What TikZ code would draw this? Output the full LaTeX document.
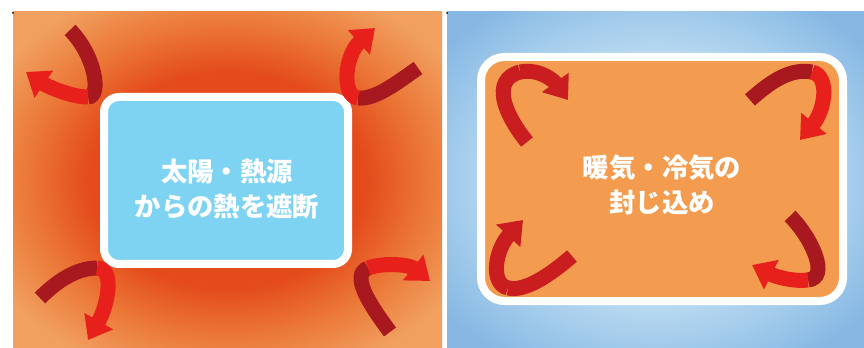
\documentclass[tikz,border=0pt]{standalone}
\usepackage{fontspec}
\newfontfamily\jpfont{Noto Sans CJK JP}
\usetikzlibrary{arrows.meta}

\definecolor{warmorange}{HTML}{F1A060}
\definecolor{glowmid}{HTML}{EB7636}
\definecolor{glowred}{HTML}{E44A1C}
\definecolor{paleblue}{HTML}{CDE7F7}
\definecolor{coolblue}{HTML}{86B8E3}
\definecolor{shieldblue}{HTML}{7FD3F2}
\definecolor{roomorange}{HTML}{F39C50}
\definecolor{tailred}{HTML}{A8181F}
\definecolor{headred}{HTML}{E8201C}
\definecolor{midred}{HTML}{C91D1F}

\pgfdeclareradialshading{heatglow}{\pgfpoint{0bp}{0bp}}{%
  color(0bp)=(glowred); color(16bp)=(glowred); color(23bp)=(glowmid);
  color(31bp)=(warmorange); color(50bp)=(warmorange)}
\pgfdeclareradialshading{coolglow}{\pgfpoint{0bp}{0bp}}{%
  color(0bp)=(paleblue); color(13bp)=(paleblue); color(32bp)=(coolblue);
  color(50bp)=(coolblue)}

\tikzset{
  panelbox/.style={draw=white, line width=2.4mm, inner sep=0pt},
  boxlabel/.style={text=white, align=center,
    font=\jpfont\bfseries\fontsize{22.5}{30.5}\selectfont},
  heatflow/.style={line width=4.5mm, draw=#1},
  heatflowtip/.style={line width=4.5mm, draw=#1,
    -{Triangle[width=9.5mm,length=6.5mm]}},
}

\begin{document}
\begin{tikzpicture}[x=0.3mm,y=-0.3mm]
  \useasboundingbox (0,0) rectangle (864,348);
  \fill[white] (0,0) rectangle (864,348);
  % backgrounds
  \shade[shading=heatglow] (13,12) rectangle (442,348);
  \shade[shading=coolglow] (447,12) rectangle (864,348);
  \fill (13,13) circle(1);
  \fill (447,13) circle(1);

  % left: heat kept out
  \node[panelbox, fill=shieldblue, rounded corners=4.5mm,
    minimum width=73.2mm, minimum height=50.1mm] (shield) at (226,180.5) {};
  \node[boxlabel] (shieldtext) at (227,189) {太陽・熱源\\からの熱を遮断};

  \draw[heatflow=tailred] (70,30) .. controls (95,55) and (102,97) .. (88,97);
  \draw[heatflowtip=headred] (88,97) .. controls (70,97) and (45,85) .. (26,72);
  \draw[heatflow=tailred] (418,68) .. controls (398,82) and (375,100) .. (358,98);
  \draw[heatflowtip=headred] (358,98) .. controls (341,96) and (345,55) .. (375,28);
  \draw[heatflow=tailred] (40,298) .. controls (55,283) and (75,268) .. (97,268);
  \draw[heatflowtip=headred] (97,268) .. controls (115,268) and (108,305) .. (88,340);
  \draw[heatflow=tailred] (390,332) .. controls (370,305) and (350,275) .. (368,268);
  \draw[heatflowtip=headred] (368,268) .. controls (385,262) and (410,265) .. (430,281);

  % right: warm and cool air kept in
  \node[panelbox, fill=roomorange, rounded corners=7mm,
    minimum width=108.6mm, minimum height=73.2mm] (room) at (662,179) {};
  \node[boxlabel] (roomtext) at (662,185) {暖気・冷気の\\封じ込め};

  \draw[heatflow=midred] (527,142) .. controls (505,115) and (490,80) .. (520,72);
  \draw[heatflowtip=midred] (520,72) .. controls (540,68) and (555,82) .. (568,100);
  \draw[heatflow=tailred] (750,100) .. controls (770,82) and (790,68) .. (812,72);
  \draw[heatflowtip=headred] (812,72) .. controls (830,76) and (825,110) .. (800,140);
  \draw[heatflow=midred] (572,256) .. controls (550,275) and (525,292) .. (508,288);
  \draw[heatflowtip=midred] (508,288) .. controls (490,284) and (495,250) .. (523,220);
  \draw[heatflow=tailred] (790,216) .. controls (812,238) and (830,278) .. (808,280);
  \draw[heatflowtip=headred] (808,280) .. controls (790,282) and (772,275) .. (752,265);
\end{tikzpicture}
\end{document}
